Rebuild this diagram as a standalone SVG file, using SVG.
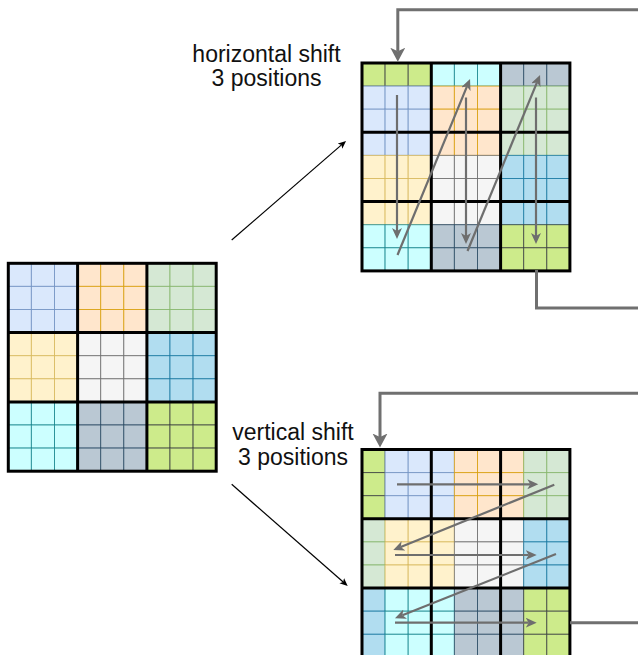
<svg xmlns="http://www.w3.org/2000/svg" xmlns:xlink="http://www.w3.org/1999/xlink" width="638" height="655" viewBox="0 0 638 655">
<style>
.b{fill:#dae8fc;stroke:#6c8ebf}
.o{fill:#ffe6cc;stroke:#d79b00}
.g{fill:#d5e8d4;stroke:#82b366}
.y{fill:#fff2cc;stroke:#d6b656}
.w{fill:#f5f5f5;stroke:#666666}
.l{fill:#b1ddf0;stroke:#10739e}
.c{fill:#ccffff;stroke:#0e8088}
.s{fill:#bac8d3;stroke:#23445d}
.m{fill:#cdeb8b;stroke:#36393d}
.cell rect{stroke-width:1;stroke-opacity:0.75}
.frame{fill:none;stroke:#000;stroke-width:3}
.lbl{font-family:"Liberation Sans",Arial,Helvetica,sans-serif;font-size:23px;fill:#111;text-anchor:middle}
.conn{fill:none;stroke:#707070;stroke-width:3}
.flow{fill:none;stroke:#6e6e6e;stroke-width:2.2}
.pt{fill:none;stroke:#000;stroke-width:1.2}
</style>
<defs>
<marker id="bigArrow" markerUnits="userSpaceOnUse" markerWidth="16" markerHeight="16" refX="3.5" refY="7.5" orient="auto" viewBox="0 0 16 16">
<path d="M0,0 L14,7.5 L0,15 L3.5,7.5 Z" fill="#707070"/>
</marker>
<marker id="flowArrow" markerUnits="userSpaceOnUse" markerWidth="12" markerHeight="12" refX="3" refY="5" orient="auto" viewBox="0 0 12 12">
<path d="M0,0 L11,5 L0,10 L3,5 Z" fill="#6e6e6e"/>
</marker>
<marker id="blackArrow" markerUnits="userSpaceOnUse" markerWidth="10" markerHeight="10" refX="2" refY="3.5" orient="auto" viewBox="0 0 10 10">
<path d="M0,0 L8,3.5 L0,7 L2,3.5 Z" fill="#000"/>
</marker>
<g id="R1" class="cell"><rect class="b" x="0" width="23.1" height="23.1"/><rect class="b" x="23.1" width="23.1" height="23.1"/><rect class="b" x="46.2" width="23.1" height="23.1"/><rect class="o" x="69.3" width="23.1" height="23.1"/><rect class="o" x="92.4" width="23.1" height="23.1"/><rect class="o" x="115.5" width="23.1" height="23.1"/><rect class="g" x="138.6" width="23.1" height="23.1"/><rect class="g" x="161.7" width="23.1" height="23.1"/><rect class="g" x="184.8" width="23.1" height="23.1"/></g>
<g id="R2" class="cell"><rect class="y" x="0" width="23.1" height="23.1"/><rect class="y" x="23.1" width="23.1" height="23.1"/><rect class="y" x="46.2" width="23.1" height="23.1"/><rect class="w" x="69.3" width="23.1" height="23.1"/><rect class="w" x="92.4" width="23.1" height="23.1"/><rect class="w" x="115.5" width="23.1" height="23.1"/><rect class="l" x="138.6" width="23.1" height="23.1"/><rect class="l" x="161.7" width="23.1" height="23.1"/><rect class="l" x="184.8" width="23.1" height="23.1"/></g>
<g id="R3" class="cell"><rect class="c" x="0" width="23.1" height="23.1"/><rect class="c" x="23.1" width="23.1" height="23.1"/><rect class="c" x="46.2" width="23.1" height="23.1"/><rect class="s" x="69.3" width="23.1" height="23.1"/><rect class="s" x="92.4" width="23.1" height="23.1"/><rect class="s" x="115.5" width="23.1" height="23.1"/><rect class="m" x="138.6" width="23.1" height="23.1"/><rect class="m" x="161.7" width="23.1" height="23.1"/><rect class="m" x="184.8" width="23.1" height="23.1"/></g>
<g id="R4" class="cell"><rect class="m" x="0" width="23.1" height="23.1"/><rect class="m" x="23.1" width="23.1" height="23.1"/><rect class="m" x="46.2" width="23.1" height="23.1"/><rect class="c" x="69.3" width="23.1" height="23.1"/><rect class="c" x="92.4" width="23.1" height="23.1"/><rect class="c" x="115.5" width="23.1" height="23.1"/><rect class="s" x="138.6" width="23.1" height="23.1"/><rect class="s" x="161.7" width="23.1" height="23.1"/><rect class="s" x="184.8" width="23.1" height="23.1"/></g>
<g id="V1" class="cell"><rect class="m" x="0" width="23.1" height="23.1"/><rect class="b" x="23.1" width="23.1" height="23.1"/><rect class="b" x="46.2" width="23.1" height="23.1"/><rect class="b" x="69.3" width="23.1" height="23.1"/><rect class="o" x="92.4" width="23.1" height="23.1"/><rect class="o" x="115.5" width="23.1" height="23.1"/><rect class="o" x="138.6" width="23.1" height="23.1"/><rect class="g" x="161.7" width="23.1" height="23.1"/><rect class="g" x="184.8" width="23.1" height="23.1"/></g>
<g id="V2" class="cell"><rect class="g" x="0" width="23.1" height="23.1"/><rect class="y" x="23.1" width="23.1" height="23.1"/><rect class="y" x="46.2" width="23.1" height="23.1"/><rect class="y" x="69.3" width="23.1" height="23.1"/><rect class="w" x="92.4" width="23.1" height="23.1"/><rect class="w" x="115.5" width="23.1" height="23.1"/><rect class="w" x="138.6" width="23.1" height="23.1"/><rect class="l" x="161.7" width="23.1" height="23.1"/><rect class="l" x="184.8" width="23.1" height="23.1"/></g>
<g id="V3" class="cell"><rect class="l" x="0" width="23.1" height="23.1"/><rect class="c" x="23.1" width="23.1" height="23.1"/><rect class="c" x="46.2" width="23.1" height="23.1"/><rect class="c" x="69.3" width="23.1" height="23.1"/><rect class="s" x="92.4" width="23.1" height="23.1"/><rect class="s" x="115.5" width="23.1" height="23.1"/><rect class="s" x="138.6" width="23.1" height="23.1"/><rect class="m" x="161.7" width="23.1" height="23.1"/><rect class="m" x="184.8" width="23.1" height="23.1"/></g>
<g id="frame" class="frame"><rect x="0" y="0" width="207.9" height="207.9"/><path d="M69.3,0V207.9M138.6,0V207.9M0,69.3H207.9M0,138.6H207.9"/></g>
</defs>

<g id="grid-original" transform="translate(8.3,263.3)">
<use xlink:href="#R1" y="0"/><use xlink:href="#R1" y="23.1"/><use xlink:href="#R1" y="46.2"/>
<use xlink:href="#R2" y="69.3"/><use xlink:href="#R2" y="92.4"/><use xlink:href="#R2" y="115.5"/>
<use xlink:href="#R3" y="138.6"/><use xlink:href="#R3" y="161.7"/><use xlink:href="#R3" y="184.8"/>
<use xlink:href="#frame"/>
</g>

<g id="grid-horizontal-shift" transform="translate(362,63)">
<use xlink:href="#R4" y="0"/>
<use xlink:href="#R1" y="23.1"/><use xlink:href="#R1" y="46.2"/><use xlink:href="#R1" y="69.3"/>
<use xlink:href="#R2" y="92.4"/><use xlink:href="#R2" y="115.5"/><use xlink:href="#R2" y="138.6"/>
<use xlink:href="#R3" y="161.7"/><use xlink:href="#R3" y="184.8"/>
<use xlink:href="#frame"/>
</g>

<g id="grid-vertical-shift" transform="translate(362,449.5)">
<use xlink:href="#V1" y="0"/><use xlink:href="#V1" y="23.1"/><use xlink:href="#V1" y="46.2"/>
<use xlink:href="#V2" y="69.3"/><use xlink:href="#V2" y="92.4"/><use xlink:href="#V2" y="115.5"/>
<use xlink:href="#V3" y="138.6"/><use xlink:href="#V3" y="161.7"/><use xlink:href="#V3" y="184.8"/>
<use xlink:href="#frame"/>
</g>

<g id="label-horizontal">
<text class="lbl" x="266.5" y="61.5">horizontal shift</text>
<text class="lbl" x="266.5" y="86">3 positions</text>
</g>
<g id="label-vertical">
<text class="lbl" x="293" y="440">vertical shift</text>
<text class="lbl" x="293" y="464.5">3 positions</text>
</g>

<g id="connectors">
<path class="pt" d="M231.7,240 L341.5,144.9" marker-end="url(#blackArrow)"/>
<path class="pt" d="M231.7,484.3 L343.2,582" marker-end="url(#blackArrow)"/>
<path class="conn" d="M638,9.8 H397.8 V51.2" marker-end="url(#bigArrow)"/>
<path class="conn" d="M536.5,270 V308 H638"/>
<path class="conn" d="M638,393.3 H380 V437" marker-end="url(#bigArrow)"/>
<path class="conn" d="M570,622.7 H638"/>
<path class="flow" d="M397,95 V231" marker-end="url(#flowArrow)"/>
<path class="flow" d="M397.5,255 L467,86.4" marker-end="url(#flowArrow)"/>
<path class="flow" d="M466,97.5 V236" marker-end="url(#flowArrow)"/>
<path class="flow" d="M467.5,251 L537,82.4" marker-end="url(#flowArrow)"/>
<path class="flow" d="M536,97.5 V236" marker-end="url(#flowArrow)"/>
<path class="flow" d="M397,484.3 H530.3" marker-end="url(#flowArrow)"/>
<path class="flow" d="M554.3,484.7 L400.7,547" marker-end="url(#flowArrow)"/>
<path class="flow" d="M395,555 H528.7" marker-end="url(#flowArrow)"/>
<path class="flow" d="M556,554 L402.4,615.3" marker-end="url(#flowArrow)"/>
<path class="flow" d="M395,622.7 H528.7" marker-end="url(#flowArrow)"/>
</g>
</svg>
